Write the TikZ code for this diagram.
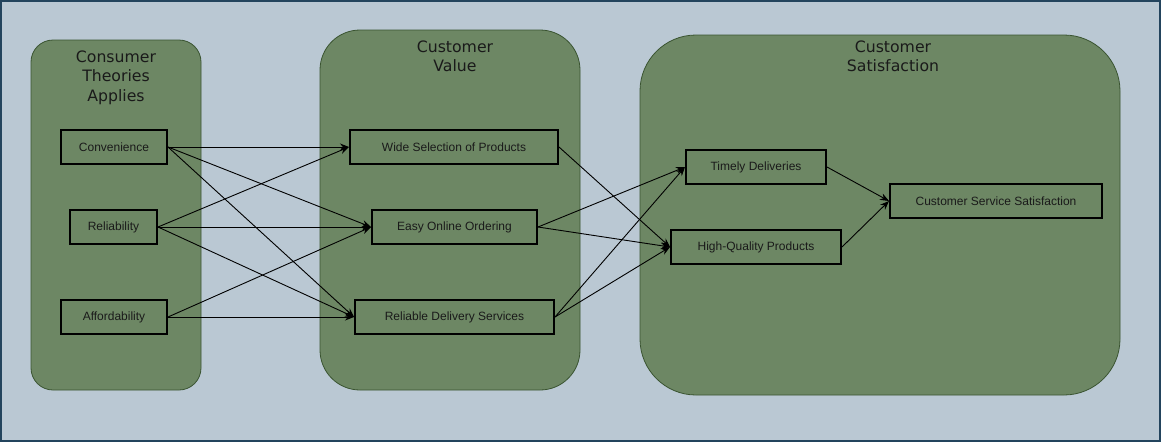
\documentclass[tikz,border=0pt]{standalone}
\usepackage{fontspec}
\setmainfont{Liberation Sans}
\newfontfamily\ttlfont{DejaVu Sans}
\usepackage{xcolor}
\usetikzlibrary{arrows.meta}
\definecolor{bgblue}{HTML}{BAC8D3}
\definecolor{frameblue}{HTML}{23445D}
\definecolor{grpgreen}{HTML}{6D8764}
\definecolor{grpline}{HTML}{3A5431}
\definecolor{txt}{HTML}{1A1A1A}

\begin{document}
\begin{tikzpicture}[x=1pt,y=-1pt,
  grp/.style={fill=grpgreen, draw=grpline, line width=0.8pt},
  ttl/.style={text=txt, align=center, font=\ttlfont\fontsize{15.7}{19.5}\selectfont, anchor=north},
  box/.style={draw=black, line width=2pt, fill=grpgreen, text=txt, font=\fontsize{12}{14}\selectfont, minimum height=34pt, inner sep=0pt},
  link/.style={draw=black, line width=0.9pt, -{Stealth[length=9pt,width=7pt]}}]
\useasboundingbox (0,0) rectangle (1161,442);
\fill[bgblue, draw=frameblue, line width=2pt] (1,1) rectangle (1160,441);
% groups
\draw[grp, rounded corners=22pt] (31,40) rectangle (201,390);
\draw[grp, rounded corners=40pt] (320,30) rectangle (580,390);
\draw[grp, rounded corners=56pt] (640,35) rectangle (1120,395);
\node[ttl] (t1) at (116,47) {Consumer\\Theories\\Applies};
\node[ttl] (t2) at (455,37) {Customer\\Value};
\node[ttl] (t3) at (893,37) {Customer\\Satisfaction};
% nodes
\node[box, minimum width=106pt] (conv) at (114,147) {Convenience};
\node[box, minimum width=87pt] (reli) at (113.5,227) {Reliability};
\node[box, minimum width=106pt] (afford) at (114,317) {Affordability};
\node[box, minimum width=208pt] (wide) at (454,147) {Wide Selection of Products};
\node[box, minimum width=165pt] (easy) at (454.5,227) {Easy Online Ordering};
\node[box, minimum width=199pt] (deliv) at (454.5,317) {Reliable Delivery Services};
\node[box, minimum width=140pt] (timely) at (756,167) {Timely Deliveries};
\node[box, minimum width=170pt] (hq) at (756,247) {High-Quality Products};
\node[box, minimum width=212pt] (css) at (996,201) {Customer Service Satisfaction};
% links
\foreach \s in {conv,reli}
  \foreach \t in {wide,easy,deliv}
    \draw[link] (\s.east) -- (\t.west);
\foreach \t in {easy,deliv}
  \draw[link] (afford.east) -- (\t.west);
\draw[link] (wide.east) -- (hq.west);
\foreach \s in {easy,deliv}
  \foreach \t in {timely,hq}
    \draw[link] (\s.east) -- (\t.west);
\draw[link] (timely.east) -- (css.west);
\draw[link] (hq.east) -- (css.west);
\end{tikzpicture}
\end{document}
